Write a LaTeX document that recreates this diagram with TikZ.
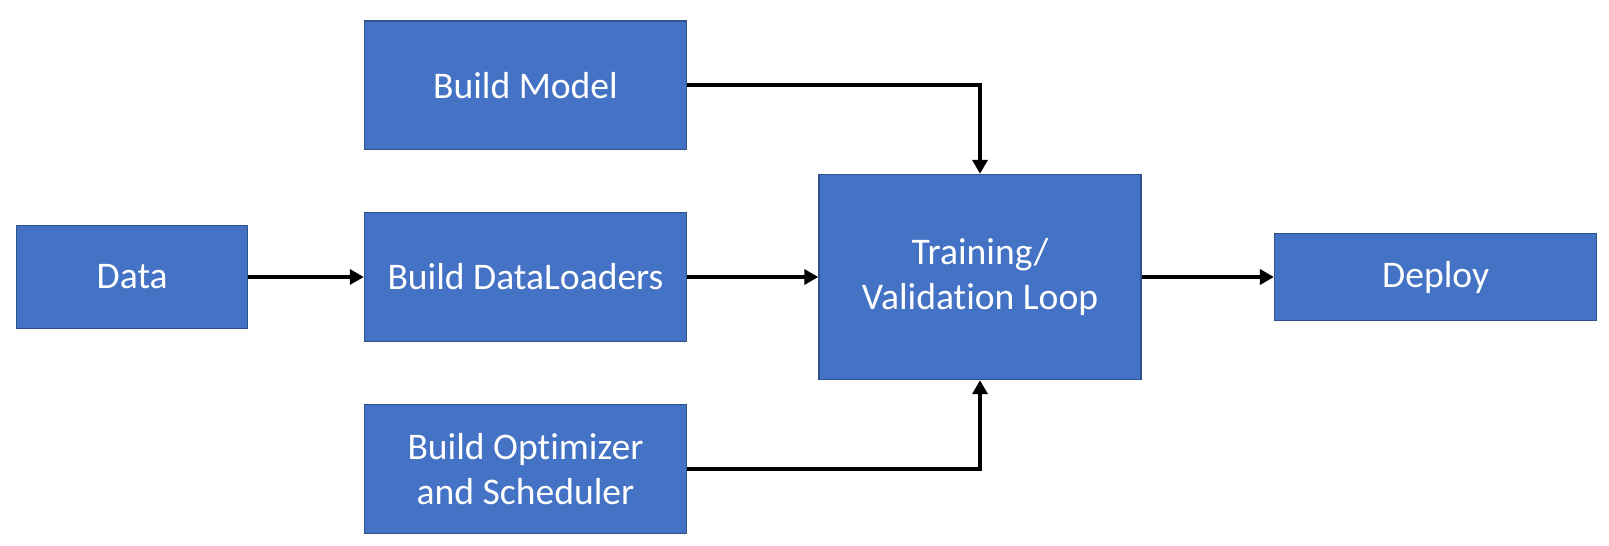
\documentclass[tikz,border=0pt]{standalone}
\usepackage{fontspec}
\setmainfont{Carlito}[Ligatures=NoCommon]
\usetikzlibrary{arrows.meta,positioning}
\definecolor{boxblue}{HTML}{4472C4}
\definecolor{boxedge}{HTML}{2F528F}

\begin{document}
\begin{tikzpicture}[
    stage/.style={draw=boxedge, line width=0.4pt, fill=boxblue, text=white, align=center, minimum width=3.22cm, minimum height=1.286cm, inner sep=0pt, font=\fontsize{10.7}{13}\selectfont},
    arrow/.style={-{Triangle[length=1.4mm, width=1.5mm]}, line width=1.2pt}
  ]
    \useasboundingbox (0,0) rectangle (16.09,5.45);
    \node[stage, minimum width=2.31cm, minimum height=1.03cm] (data) at (1.322,2.68) {Data};
    \node[stage] (model) at (5.255,4.598) {Build Model};
    \node[stage] (loaders) at (5.255,2.68) {Build DataLoaders};
    \node[stage] (optim) at (5.255,0.76) {Build Optimizer\\and Scheduler};
    \node[stage, minimum height=2.05cm] (loop) at (9.80,2.68) {Training/\\Validation Loop};
    \node[stage, minimum height=0.87cm] (deploy) at (14.356,2.68) {Deploy};

    \draw[arrow] (data) -- (loaders);
    \draw[arrow] (loaders) -- (loop);
    \draw[arrow] (loop) -- (deploy);
    \foreach \n in {model,optim}
      \draw[arrow] (\n) -| (loop);
  \end{tikzpicture}
\end{document}
